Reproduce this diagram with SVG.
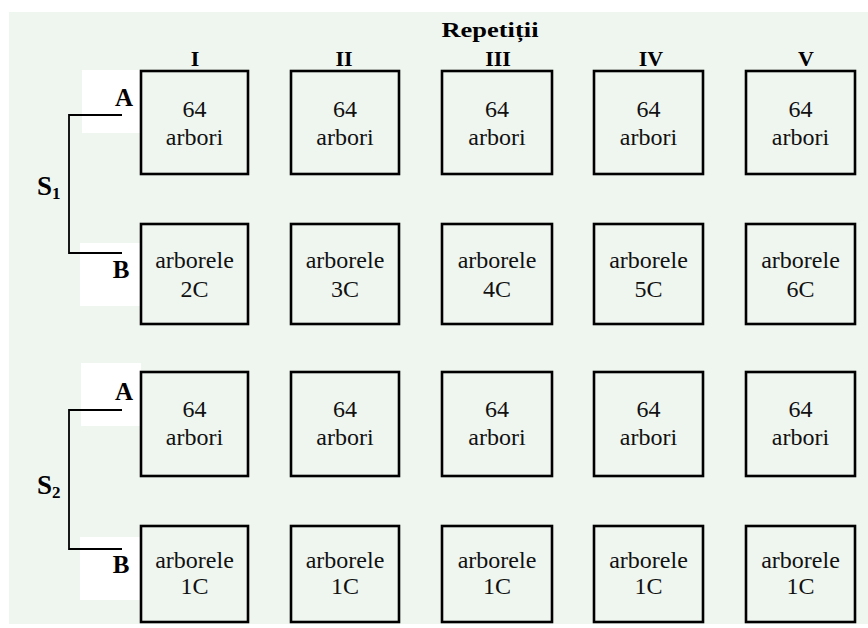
<svg xmlns="http://www.w3.org/2000/svg" width="868" height="628" viewBox="0 0 868 628">
  <style>
    .bg { fill: #eff6f0; }
    .tag { fill: #ffffff; }
    .plot { fill: none; stroke: #000; stroke-width: 2.6; }
    .br { fill: none; stroke: #000; stroke-width: 1.8; }
    text { font-family: "Liberation Serif", "Times New Roman", Times, "DejaVu Serif", serif; }
    .t { font-size: 24px; font-weight: normal; fill: #111; text-anchor: middle; }
    .h { font-size: 22px; font-weight: bold; fill: #000; text-anchor: middle; }
    .lab { font-size: 25px; font-weight: bold; fill: #000; text-anchor: middle; }
    .s { font-size: 27px; font-weight: bold; fill: #000; }
  </style>

  <rect class="bg" x="9" y="12" width="859" height="612"/>

  <!-- white tabs behind A / B labels -->
  <rect class="tag" x="82" y="70" width="59" height="63"/>
  <rect class="tag" x="80" y="243" width="61" height="63"/>
  <rect class="tag" x="81" y="363" width="60" height="63"/>
  <rect class="tag" x="80" y="537" width="61" height="63"/>

  <!-- headings -->
  <g id="headings">
    <text class="h" x="490" y="37" textLength="97" lengthAdjust="spacingAndGlyphs">Repetiții</text>
    <text class="h" x="195" y="66">I</text>
    <text class="h" x="344" y="66">II</text>
    <text class="h" x="498" y="66">III</text>
    <text class="h" x="651" y="66">IV</text>
    <text class="h" x="806" y="66">V</text>
  </g>

  <!-- bracket connectors -->
  <g id="connectors">
    <polyline class="br" points="122,115 69,115 69,253 122,253"/>
    <polyline class="br" points="122,410 69,410 69,549 122,549"/>
  </g>

  <!-- series labels -->
  <g id="series">
    <text class="s" x="37" y="195">S<tspan font-size="17" dy="4">1</tspan></text>
    <text class="s" x="37" y="494">S<tspan font-size="17" dy="4">2</tspan></text>
    <text class="lab" x="124" y="106">A</text>
    <text class="lab" x="121" y="278">B</text>
    <text class="lab" x="124" y="400">A</text>
    <text class="lab" x="121" y="573">B</text>
  </g>

  <!-- S1 A row -->
  <g id="s1a-1"><rect class="plot" x="141" y="71" width="107" height="103"/><text class="t" x="194.5" y="117">64</text><text class="t" x="194.5" y="145">arbori</text></g>
  <g id="s1a-2"><rect class="plot" x="291" y="71" width="108" height="103"/><text class="t" x="345" y="117">64</text><text class="t" x="345" y="145">arbori</text></g>
  <g id="s1a-3"><rect class="plot" x="442" y="71" width="110" height="103"/><text class="t" x="497" y="117">64</text><text class="t" x="497" y="145">arbori</text></g>
  <g id="s1a-4"><rect class="plot" x="594" y="71" width="109" height="103"/><text class="t" x="648.5" y="117">64</text><text class="t" x="648.5" y="145">arbori</text></g>
  <g id="s1a-5"><rect class="plot" x="746" y="71" width="109" height="103"/><text class="t" x="800.5" y="117">64</text><text class="t" x="800.5" y="145">arbori</text></g>

  <!-- S1 B row -->
  <g id="s1b-1"><rect class="plot" x="141" y="224" width="107" height="100"/><text class="t" x="194.5" y="268">arborele</text><text class="t" x="194.5" y="297">2C</text></g>
  <g id="s1b-2"><rect class="plot" x="291" y="224" width="108" height="100"/><text class="t" x="345" y="268">arborele</text><text class="t" x="345" y="297">3C</text></g>
  <g id="s1b-3"><rect class="plot" x="442" y="224" width="110" height="100"/><text class="t" x="497" y="268">arborele</text><text class="t" x="497" y="297">4C</text></g>
  <g id="s1b-4"><rect class="plot" x="594" y="224" width="109" height="100"/><text class="t" x="648.5" y="268">arborele</text><text class="t" x="648.5" y="297">5C</text></g>
  <g id="s1b-5"><rect class="plot" x="746" y="224" width="109" height="100"/><text class="t" x="800.5" y="268">arborele</text><text class="t" x="800.5" y="297">6C</text></g>

  <!-- S2 A row -->
  <g id="s2a-1"><rect class="plot" x="141" y="372" width="107" height="104"/><text class="t" x="194.5" y="417">64</text><text class="t" x="194.5" y="445">arbori</text></g>
  <g id="s2a-2"><rect class="plot" x="291" y="372" width="108" height="104"/><text class="t" x="345" y="417">64</text><text class="t" x="345" y="445">arbori</text></g>
  <g id="s2a-3"><rect class="plot" x="442" y="372" width="110" height="104"/><text class="t" x="497" y="417">64</text><text class="t" x="497" y="445">arbori</text></g>
  <g id="s2a-4"><rect class="plot" x="594" y="372" width="109" height="104"/><text class="t" x="648.5" y="417">64</text><text class="t" x="648.5" y="445">arbori</text></g>
  <g id="s2a-5"><rect class="plot" x="746" y="372" width="109" height="104"/><text class="t" x="800.5" y="417">64</text><text class="t" x="800.5" y="445">arbori</text></g>

  <!-- S2 B row -->
  <g id="s2b-1"><rect class="plot" x="141" y="526" width="107" height="96"/><text class="t" x="194.5" y="568">arborele</text><text class="t" x="194.5" y="594">1C</text></g>
  <g id="s2b-2"><rect class="plot" x="291" y="526" width="108" height="96"/><text class="t" x="345" y="568">arborele</text><text class="t" x="345" y="594">1C</text></g>
  <g id="s2b-3"><rect class="plot" x="442" y="526" width="110" height="96"/><text class="t" x="497" y="568">arborele</text><text class="t" x="497" y="594">1C</text></g>
  <g id="s2b-4"><rect class="plot" x="594" y="526" width="109" height="96"/><text class="t" x="648.5" y="568">arborele</text><text class="t" x="648.5" y="594">1C</text></g>
  <g id="s2b-5"><rect class="plot" x="746" y="526" width="109" height="96"/><text class="t" x="800.5" y="568">arborele</text><text class="t" x="800.5" y="594">1C</text></g>
</svg>
